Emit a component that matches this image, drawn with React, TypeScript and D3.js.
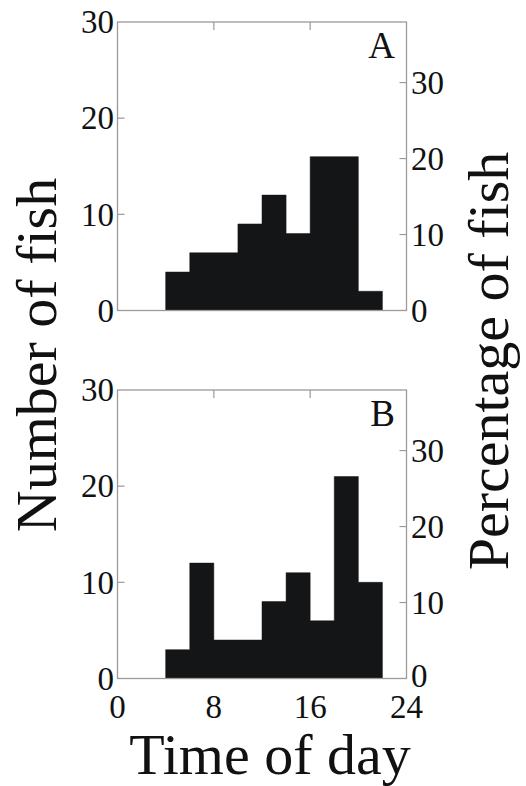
import React from "react";
import * as d3 from "d3";

const binStarts = [4, 6, 8, 10, 12, 14, 16, 18, 20];
const binWidth = 2;
const countsA = [4, 6, 6, 9, 12, 8, 16, 16, 2];
const countsB = [3, 12, 4, 4, 8, 11, 6, 21, 10];
const totalFish = 79;
const xTicks = [0, 8, 16, 24];
const countTicks = [0, 10, 20, 30];
const pctTicks = [0, 10, 20, 30];
const panelLabels = ["A", "B"];

const W = 526;
const H = 786;
const left = 117.5;
const right = 406.5;
const panels = [
  { top: 22, bottom: 310.5, counts: countsA, label: panelLabels[0], showX: false },
  { top: 390, bottom: 678.5, counts: countsB, label: panelLabels[1], showX: true },
];

const font = "'Liberation Serif', 'Times New Roman', serif";
const frameColor = "#9a9a9a";
const barColor = "#141516";
const tickLen = 7;

const x = d3.scaleLinear().domain([0, 24]).range([left, right]);

function histPath(counts: number[], y: d3.ScaleLinear<number, number>) {
  const p = d3.path();
  const x0 = x(binStarts[0]);
  p.moveTo(x0, y(0));
  counts.forEach((c, i) => {
    p.lineTo(x(binStarts[i]), y(c));
    p.lineTo(x(binStarts[i] + binWidth), y(c));
  });
  p.lineTo(x(binStarts[binStarts.length - 1] + binWidth), y(0));
  p.closePath();
  return p.toString();
}

function Panel({ p }: { p: typeof panels[number] }) {
  const y = d3.scaleLinear().domain([0, 30]).range([p.bottom, p.top]);
  const yp = d3
    .scaleLinear()
    .domain([0, (30 / totalFish) * 100])
    .range([p.bottom, p.top]);
  return (
    <g>
      {[8, 16].map((t) => (
        <g key={"xt" + t}>
          <line x1={x(t)} x2={x(t)} y1={p.top} y2={p.top + tickLen + 1} stroke={frameColor} strokeWidth={1.2} />
          <line x1={x(t)} x2={x(t)} y1={p.bottom} y2={p.bottom - tickLen - 1} stroke={frameColor} strokeWidth={1.2} />
        </g>
      ))}
      <path d={histPath(p.counts, y)} fill={barColor} stroke={barColor} strokeWidth={0.5} />
      <rect
        x={left}
        y={p.top}
        width={right - left}
        height={p.bottom - p.top}
        fill="none"
        stroke={frameColor}
        strokeWidth={1.3}
      />
      {countTicks.map((t) => (
        <g key={"l" + t}>
          {t > 0 && t < 30 && (
            <line x1={left} x2={left + tickLen} y1={y(t)} y2={y(t)} stroke={frameColor} strokeWidth={1.2} />
          )}
          <text
            x={114}
            y={y(t)}
            dy="0.34em"
            textAnchor="end"
            fontFamily={font}
            fontSize={33}
            fill="#111"
          >
            {t}
          </text>
        </g>
      ))}
      {pctTicks.map((t) => (
        <g key={"r" + t}>
          {t > 0 && (
            <line x1={right} x2={right - tickLen} y1={yp(t)} y2={yp(t)} stroke={frameColor} strokeWidth={1.2} />
          )}
          <text
            x={411}
            y={yp(t) - (p.showX && t === 0 ? 3 : 0)}
            dy="0.34em"
            textAnchor="start"
            fontFamily={font}
            fontSize={33}
            fill="#111"
          >
            {t}
          </text>
        </g>
      ))}
      {p.showX &&
        xTicks.map((t) => (
          <text
            key={"xl" + t}
            x={x(t)}
            y={718}
            textAnchor="middle"
            fontFamily={font}
            fontSize={33}
            fill="#111"
          >
            {t}
          </text>
        ))}
      <text x={395} y={p.top + 36} textAnchor="end" fontFamily={font} fontSize={37} fill="#111">
        {p.label}
      </text>
    </g>
  );
}

export default function App() {
  return (
    <svg
      width={W}
      height={H}
      viewBox={`0 0 ${W} ${H}`}
      style={{ position: "absolute", left: 0, top: 0, background: "#fff" }}
    >
      <rect x={0} y={0} width={W} height={H} fill="#fff" />
      {panels.map((p) => (
        <Panel key={p.label} p={p} />
      ))}
      <text x={270} y={774} textAnchor="middle" fontFamily={font} fontSize={58} fill="#111">
        Time of day
      </text>
      <text
        transform="translate(56,355) rotate(-90)"
        textAnchor="middle"
        fontFamily={font}
        fontSize={58}
        fill="#111"
      >
        Number of fish
      </text>
      <text
        transform="translate(508,361) rotate(-90)"
        textAnchor="middle"
        fontFamily={font}
        fontSize={58}
        fill="#111"
      >
        Percentage of fish
      </text>
    </svg>
  );
}
